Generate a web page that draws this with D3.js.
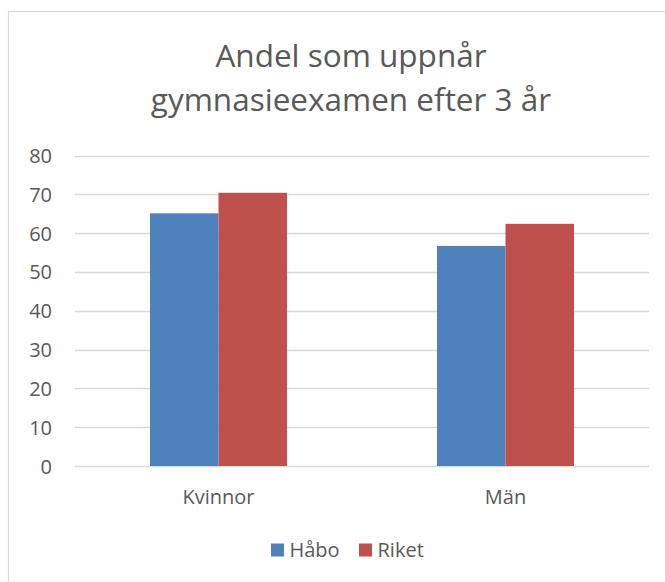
<!DOCTYPE html>
<html>
<head>
<meta charset="utf-8">
<script src="https://d3js.org/d3.v7.min.js"></script>
<style>
  body { margin: 0; background: #fff; }
  text { font-family: "Open Sans", sans-serif; fill: #595959; }
</style>
</head>
<body>
<svg id="plot"></svg>
<script>
// Data
const categories = ["Kvinnor", "Män"];
const seriesNames = ["Håbo", "Riket"];
const habo = [65.1, 56.7];
const riket = [70.4, 62.4];
const yTicks = [0, 10, 20, 30, 40, 50, 60, 70, 80];
const colors = ["#4f81bd", "#c0504d"];
const titleLines = ["Andel som uppnår", "gymnasieexamen efter 3 år"];

const W = 665, H = 582;
const svg = d3.select("#plot").attr("width", W).attr("height", H);

// chart border
svg.append("rect")
    .attr("x", 8.5).attr("y", 11.5)
    .attr("width", 700).attr("height", 700)
    .attr("fill", "none")
    .attr("stroke", "#d9d9d9")
    .attr("stroke-width", 1.2);

// Scales
const x = d3.scaleBand()
    .domain(categories)
    .range([75, 649])
    .paddingInner(0.5226)
    .paddingOuter(0.2613);

const x1 = d3.scaleBand()
    .domain(seriesNames)
    .range([0, x.bandwidth()]);

const y = d3.scaleLinear()
    .domain([0, 80])
    .range([466, 155.5]);

// Gridlines
svg.append("g")
    .selectAll("line")
    .data(yTicks)
    .enter().append("line")
    .attr("x1", 75).attr("x2", 649)
    .attr("y1", d => Math.round(y(d)) + 0.5)
    .attr("y2", d => Math.round(y(d)) + 0.5)
    .attr("stroke", "#d9d9d9")
    .attr("stroke-width", 1.3);

// Y axis
const yAxis = svg.append("g")
    .attr("transform", "translate(52,0)")
    .call(d3.axisLeft(y).tickValues(yTicks).tickSize(0).tickPadding(0));
yAxis.select(".domain").remove();
yAxis.selectAll("text")
    .attr("font-size", 20)
    .attr("font-family", "Open Sans, sans-serif")
    .style("fill", "#595959")
    .attr("dy", "0.35em");

// Bars
const rows = categories.map((c, i) => ({ cat: c, vals: [habo[i], riket[i]] }));
const groups = svg.selectAll(".grp")
    .data(rows)
    .enter().append("g")
    .attr("transform", d => `translate(${x(d.cat)},0)`);

groups.selectAll("rect")
    .data(d => d.vals.map((v, j) => ({ name: seriesNames[j], v: v, j: j })))
    .enter().append("rect")
    .attr("x", d => x1(d.name))
    .attr("width", x1.bandwidth())
    .attr("y", d => y(d.v))
    .attr("height", d => y(0) - y(d.v))
    .attr("fill", d => colors[d.j]);

// X axis labels
const xAxis = svg.append("g")
    .attr("transform", "translate(0,466)")
    .call(d3.axisBottom(x).tickSize(0).tickPadding(24));
xAxis.select(".domain").remove();
xAxis.selectAll("text")
    .attr("font-size", 20)
    .attr("font-family", "Open Sans, sans-serif")
    .style("fill", "#595959");

// Title
svg.append("text")
    .attr("x", 351)
    .attr("text-anchor", "middle")
    .attr("font-size", 31.5)
    .selectAll("tspan")
    .data(titleLines)
    .enter().append("tspan")
    .attr("x", 351)
    .attr("y", (d, i) => 67 + i * 44)
    .text(d => d);

// Legend
const legend = svg.append("g");
const legendX = [271, 359];
seriesNames.forEach((s, i) => {
  legend.append("rect")
      .attr("x", legendX[i]).attr("y", 543.5)
      .attr("width", 13).attr("height", 13)
      .attr("fill", colors[i]);
  legend.append("text")
      .attr("x", legendX[i] + 18.5).attr("y", 557)
      .attr("font-size", 20)
      .text(s);
});
</script>
</body>
</html>
